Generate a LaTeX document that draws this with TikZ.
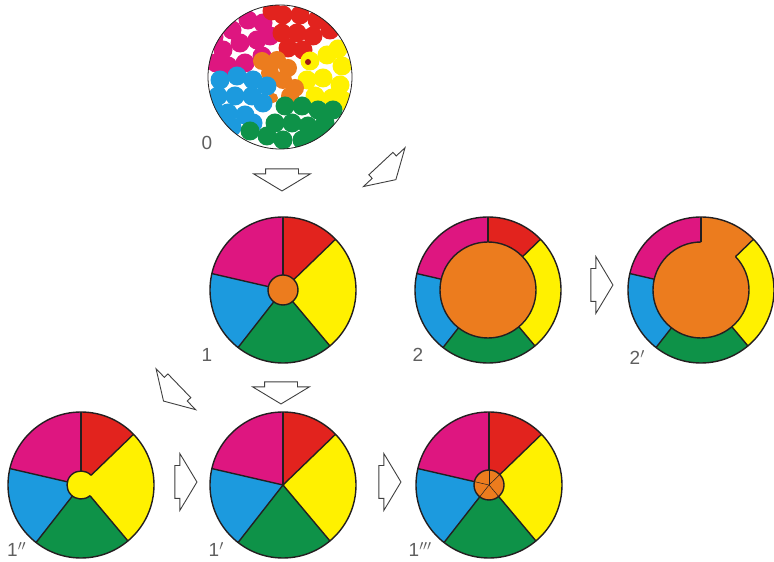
\documentclass[tikz,border=0pt]{standalone}
\usepackage{xcolor}
\usepackage{fontspec}
\setmainfont{Liberation Sans}
\usepackage{tikz}
\usetikzlibrary{calc, shapes.arrows}

\definecolor{wmag}{RGB}{222,22,128}
\definecolor{wred}{RGB}{226,35,30}
\definecolor{wyel}{RGB}{255,241,0}
\definecolor{wgrn}{RGB}{14,146,72}
\definecolor{wblu}{RGB}{28,154,222}
\definecolor{worg}{RGB}{236,124,30}
\definecolor{rim}{RGB}{35,31,32}
\definecolor{lbl}{RGB}{95,95,95}

\begin{document}
\begin{tikzpicture}[
        x=1pt, y=1pt,
        edge/.style={draw=rim, line width=1.4pt},
        thinedge/.style={draw=rim, line width=0.5pt},
        blk/.style={single arrow, draw=black!75, line width=0.9pt, fill=white, minimum height=22pt, inner xsep=0pt, inner ysep=16pt, single arrow head extend=12pt, single arrow tip angle=118},
        num/.style={anchor=base west, font=\fontsize{19}{19}\selectfont, text=lbl, inner sep=0pt}
    ]

        \useasboundingbox (0,0) rectangle (774,562);
        \fill[white] (0,0) rectangle (774,562);

        % Wheel centres
        \coordinate (c0) at (280,485);
        \coordinate (c1) at (283,272);
        \coordinate (c2) at (488,272);
        \coordinate (c2p) at (701,272);
        \coordinate (c1pp) at (81,77);
        \coordinate (c1p) at (283,77);
        \coordinate (c1ppp) at (489,77);

        % State 0: scattered dots (y = 485)
        \begin{scope}[shift={(c0)}]
            \clip (0,0) circle[radius=72];
            \foreach \x/\y in {-48/47, -32/57, -17/54, -57/27, -40/34, -23/37, -52/11, -35/14, -18/21, -10/41, -66/40, -64/14}
                \fill[wmag] (\x,\y) circle[radius=9.5];
            \foreach \x/\y in {3/62, 20/62, 37/57, 50/47, 2/44, 17/44, 33/41, 8/29, 23/27, -8/66}
                \fill[wred] (\x,\y) circle[radius=9.5];
            \foreach \x/\y in {30/16, 47/22, 62/11, 27/-3, 43/-1, 60/-8, 35/-19, 52/-21, 64/-24, 58/28}
                \fill[wyel] (\x,\y) circle[radius=9.5];
            \fill[wred!70!black] (28,15) circle[radius=3];
            \foreach \x/\y in {-18/16, -3/17, 8/9, -10/4, 3/-3, 15/-11, 10/-19}
                \fill[worg] (\x,\y) circle[radius=9];
            \fill[worg] (-7,-21) circle[radius=5];
            \foreach \x/\y in {-60/-3, -43/1, -27/-3, -13/-9, -62/-19, -45/-19, -28/-19, -17/-26, -52/-36, -35/-38, -27/-46, -66/-33, -48/-50}
                \fill[wblu] (\x,\y) circle[radius=9.5];
            \foreach \x/\y in {5/-29, 22/-29, 38/-33, 53/-33, -5/-46, 12/-46, 28/-49, 45/-46, -30/-54, -13/-59, 3/-63, 22/-63, 37/-59}
                \fill[wgrn] (\x,\y) circle[radius=9.5];
        \end{scope}
        \draw[thinedge, line width=0.8pt] (c0) circle[radius=72];

        % Wheel sectors
        \foreach \c in {c1,c2,c2p,c1pp,c1p,c1ppp}
            \foreach \a/\b/\col in {-50/44/wyel, 44/90/wred, 90/167/wmag, 167/232/wblu, 232/310/wgrn}
                \fill[\col] (\c) -- ($(\c)+(\a:73)$) arc[start angle=\a, end angle=\b, radius=73] -- cycle;

        % Centre regions
        \fill[worg] (c1) circle[radius=15];
        \fill[worg] (c2) circle[radius=48];
        \fill[worg] (c2p) -- ($(c2p)+(44:73)$) arc[start angle=44, end angle=90, radius=73] -- cycle;
        \fill[worg] (c2p) circle[radius=48];
        \fill[wyel] (c1pp) circle[radius=14];
        \fill[worg] (c1ppp) circle[radius=15];

        % Sector borders
        \foreach \c/\r in {c1/15, c2/48, c2p/48, c1pp/14, c1p/0, c1ppp/15}
            \foreach \a in {-50, 44, 90, 167, 232}
                \draw[edge] ($(\c)+(\a:\r)$) -- ($(\c)+(\a:73)$);
        \foreach \a in {-50, 44, 90, 167, 232}
            \draw[thinedge] (c1ppp) -- ($(c1ppp)+(\a:15)$);

        \draw[edge] (c1) circle[radius=15];
        \draw[edge] (c2) circle[radius=48];
        \draw[edge] ($(c2p)+(90:48)$) arc[start angle=90, end angle=404, radius=48];
        \draw[edge] ($(c1pp)+(44:14)$) arc[start angle=44, end angle=310, radius=14];
        \draw[edge] (c1ppp) circle[radius=15];
        \foreach \c in {c1,c2,c2p,c1pp,c1p,c1ppp}
            \draw[edge] (\c) circle[radius=73];

        % Block arrows
        \node[blk, rotate=-90] (a01) at (282,387) {};
        \node[blk, rotate=-47] (a02) at (385,394) {};
        \node[blk, rotate=-90] (a11p) at (281,174) {};
        \node[blk, rotate=-136] (a11pp) at (175,172) {};
        \node[blk] (a22p) at (597,277) {};
        \node[blk] (a1pp1p) at (181,80) {};
        \node[blk] (a1p1ppp) at (385,80) {};

        % Labels
        \node[num] (l0) at ($(c0)+(-78.5,-73)$) {0};
        \node[num] (l1) at ($(c1)+(-81.5,-72)$) {1};
        \node[num] (l2) at ($(c2)+(-75.5,-72)$) {2};
        \node[num] (l2p) at ($(c2p)+(-71.5,-75)$) {2$^{\prime}$};
        \node[num] (l1pp) at ($(c1pp)+(-74,-72)$) {1$^{\prime\prime}$};
        \node[num] (l1p) at ($(c1p)+(-74.5,-72)$) {1$^{\prime}$};
        \node[num] (l1ppp) at ($(c1ppp)+(-80.5,-72)$) {1$^{\prime\prime\prime}$};

    \end{tikzpicture}
\end{document}
